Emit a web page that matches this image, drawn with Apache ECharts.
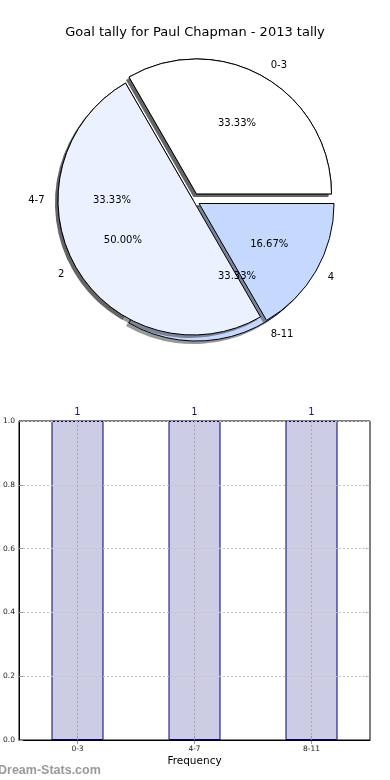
<!DOCTYPE html>
<html><head><meta charset="utf-8">
<script src="https://cdn.jsdelivr.net/npm/echarts@6/dist/echarts.min.js"></script>
<style>html,body{margin:0;padding:0;background:#fff}#c{width:390px;height:780px}</style>
</head><body><div id="c"></div>
<script>
const chartTitle = 'Goal tally for Paul Chapman - 2013 tally';
const rangeCategories = ['0-3', '4-7', '8-11'];
const rangeValues = [1, 1, 1];
const goalCategories = ['1', '2', '4'];
const goalValues = [2, 3, 1];
const barCategories = ['0-3', '4-7', '8-11'];
const barValues = [1, 1, 1];
const explodedIndex = [0, 2];
const pieColors = ['#ffffff', '#ebf1fe', '#c5d8fd'];

const F = 'DejaVu Sans';
const CX = 193, CY = 200, R = 135;

function sum(a) { return a.reduce((s, v) => s + v, 0); }
function pieData(names, vals, style, offs) {
  return names.map((n, i) => ({
    name: n, value: vals[i], selected: explodedIndex.indexOf(i) >= 0,
    selectedOffset: offs[i],
    itemStyle: style === 'main' ? { color: pieColors[i] } : {}
  }));
}
function pieSeries(names, vals, offs) {
  const tot = sum(vals);
  const common = {
    type: 'pie', startAngle: 0, clockwise: false,
    selectedMode: 'multiple', avoidLabelOverlap: false, animation: false, silent: true,
    emphasis: { disabled: true }, selectedOffset: 7
  };
  return [
    Object.assign({}, common, {
      center: [CX - 3, CY + 3], radius: R,
      itemStyle: { color: 'rgba(50,50,50,0.5)', borderWidth: 0 },
      label: { show: false }, labelLine: { show: false },
      data: pieData(names, vals, 'shadow', offs)
    }),
    Object.assign({}, common, {
      center: [CX, CY], radius: R,
      itemStyle: { borderColor: '#000', borderWidth: 1 },
      label: { show: true, position: 'outside', formatter: '{b}', fontFamily: F, fontSize: 10, color: '#000', distanceToLabelLine: 0 },
      labelLine: { show: false, length: R * 0.1, length2: 0 },
      data: pieData(names, vals, 'main', offs)
    }),
    Object.assign({}, common, {
      center: [CX, CY], radius: (0.6 * R - 3) * 2,
      itemStyle: { color: 'rgba(0,0,0,0)', borderWidth: 0 },
      label: { show: true, position: 'inside', fontFamily: F, fontSize: 10, color: '#000',
        formatter: p => (p.value / tot * 100).toFixed(2) + '%' },
      labelLine: { show: false },
      data: pieData(names, vals, 'label', offs)
    })
  ];
}

const chart = echarts.init(document.getElementById('c'), null, { renderer: 'canvas' });
const axisFont = { fontFamily: F, fontSize: 7.5, color: '#222' };
chart.setOption({
  animation: false,
  backgroundColor: '#fff',
  title: { text: chartTitle, left: 'center', top: 21, textStyle: { fontFamily: F, fontSize: 13, fontWeight: 'normal', color: '#000' } },
  grid: { left: 19, right: 20, top: 421, bottom: 40, show: true, borderColor: '#000', borderWidth: 1, containLabel: false, outerBoundsMode: 'none' },
  xAxis: [
    { type: 'category', data: barCategories, boundaryGap: true, z: 5,
      axisLine: { show: true, lineStyle: { color: '#000', width: 1 } },
      axisTick: { show: true, alignWithLabel: true, inside: true, length: 4, lineStyle: { color: '#999' } },
      axisLabel: Object.assign({ margin: 5 }, axisFont),
      splitLine: { show: true, alignWithLabel: true, lineStyle: { type: [2, 2], color: '#aaa', width: 1 } },
      name: 'Frequency', nameLocation: 'middle', nameGap: 16,
      nameTextStyle: { fontFamily: F, fontSize: 10.5, color: '#000' } },
    { type: 'category', data: barCategories, position: 'top', boundaryGap: true,
      axisLine: { show: false }, axisLabel: { show: false }, splitLine: { show: false },
      axisTick: { show: true, alignWithLabel: true, inside: true, length: 4, lineStyle: { color: '#999' } } }
  ],
  yAxis: [
    { type: 'value', min: 0, max: 1, interval: 0.2, z: 5,
      axisLine: { show: true, lineStyle: { color: '#000' } },
      axisTick: { show: true, inside: true, length: 4, lineStyle: { color: '#999' } },
      axisLabel: Object.assign({ margin: 4, formatter: v => v.toFixed(1) }, axisFont),
      splitLine: { show: true, lineStyle: { type: [2, 2], color: '#c4c4c4', width: 1 } } },
    { type: 'value', min: 0, max: 1, interval: 0.2, position: 'right',
      axisLine: { show: false }, axisLabel: { show: false }, splitLine: { show: false },
      axisTick: { show: true, inside: true, length: 4, lineStyle: { color: '#999' } } }
  ],
  graphic: [
    { type: 'text', left: -2, top: 764, style: { text: 'Dream-Stats.com', fontFamily: 'Liberation Sans', fontWeight: 'bold', fontSize: 12.5, fill: '#999' } }
  ],
  series: [].concat(
    pieSeries(rangeCategories, rangeValues, [7, 0, 5]),
    pieSeries(goalCategories, goalValues, [7, 0, 7]),
    [{
      type: 'bar', xAxisIndex: 0, yAxisIndex: 0, data: barValues, barWidth: 52,
      itemStyle: { color: '#cccce5', borderColor: '#000080', borderWidth: 1 },
      label: { show: true, position: 'top', distance: 4, fontFamily: F, fontSize: 10, color: '#1a1a6e' },
      emphasis: { disabled: true }, silent: true
    }]
  )
});
</script></body></html>
